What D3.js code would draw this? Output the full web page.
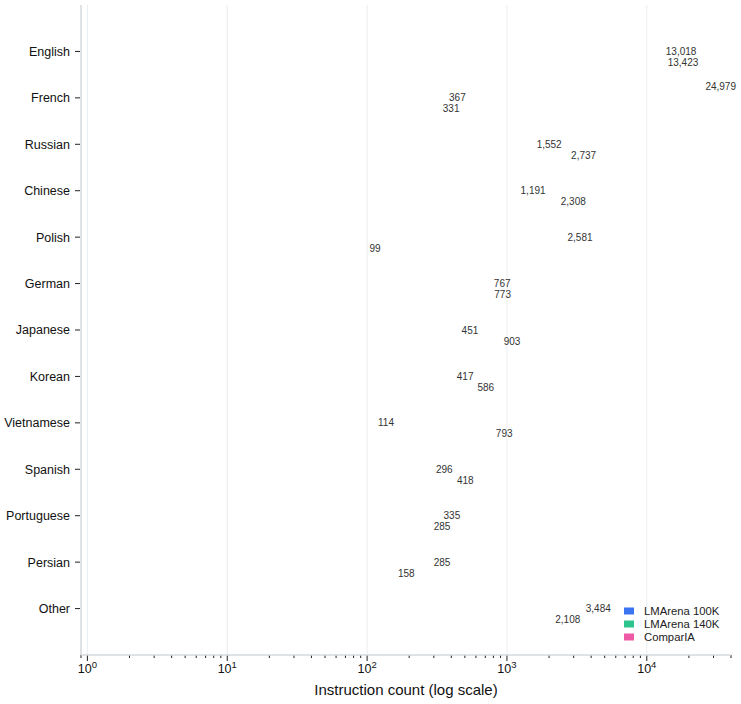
<!DOCTYPE html>
<html>
<head>
<meta charset="utf-8">
<script src="https://cdn.jsdelivr.net/npm/d3@7"></script>
<style>
  body { margin: 0; background: #fff; }
  svg { display: block; font-family: "Liberation Sans", Arial, Helvetica, sans-serif; }
</style>
</head>
<body>
<svg id="chart" width="741" height="704"></svg>
<script>
const languages = ["English","French","Russian","Chinese","Polish","German","Japanese","Korean","Vietnamese","Spanish","Portuguese","Persian","Other"];
const seriesNames = ["LMArena 100K","LMArena 140K","ComparIA"];
const drawOrder = ["ComparIA","LMArena 100K","LMArena 140K"];
const lmarena100k = [13018, 367, 1552, 1191, 2581, 767, 451, 417, 114, 296, 335, 285, 3484];
const lmarena140k = [13423, 331, 2737, 2308, 99, 773, 903, 586, 793, 418, 285, 158, 2108];
const comparia    = [null, 24979, null, null, null, null, null, null, null, null, null, null, null];
const colors = ["#3b74f0", "#2ec48e", "#ee5aa6"];
const xTickValues = [1, 10, 100, 1000, 10000];

const values = { "LMArena 100K": lmarena100k, "LMArena 140K": lmarena140k, "ComparIA": comparia };

const svg = d3.select("#chart");
const pLeft = 81, pRight = 731, pTop = 5, pBottom = 655;

const x = d3.scaleLog().domain([0.9, 40000]).range([pLeft, pRight]);
const y = d3.scaleBand().domain(languages).range([pTop, pBottom]).paddingInner(0.2).paddingOuter(0.6);
const ySub = d3.scaleBand().domain(drawOrder).range([0, y.bandwidth()]).paddingInner(0.1).paddingOuter(0.235);

// gridlines
svg.append("g").selectAll("line").data(xTickValues).join("line")
  .attr("x1", d => x(d)).attr("x2", d => x(d))
  .attr("y1", pTop).attr("y2", pBottom)
  .attr("stroke", "#ebedf0").attr("stroke-width", 1);

// x axis
const xg = svg.append("g").attr("transform", `translate(0,${pBottom})`);
const allTicks = x.ticks();
xg.selectAll("line.minor").data(allTicks).join("line")
  .attr("class", "minor")
  .attr("x1", d => x(d)).attr("x2", d => x(d))
  .attr("y1", 0)
  .attr("y2", d => xTickValues.includes(d) ? 6 : 3)
  .attr("stroke", "#222").attr("stroke-width", 1);
xg.append("line").attr("x1", pLeft).attr("x2", pRight).attr("y1", 0).attr("y2", 0)
  .attr("stroke", "#d5d8dd").attr("stroke-width", 1.5);
const xl = xg.selectAll("text.tl").data(xTickValues).join("text")
  .attr("class", "tl")
  .attr("x", d => x(d)).attr("y", 18)
  .attr("text-anchor", "middle")
  .attr("font-size", 12.5).attr("fill", "#111");
xl.append("tspan").text("10");
xl.append("tspan").attr("dy", -5).attr("font-size", 9.5).text(d => Math.round(Math.log10(d)));

svg.append("text").attr("x", (pLeft + pRight) / 2).attr("y", 695)
  .attr("text-anchor", "middle").attr("font-size", 15).attr("fill", "#111")
  .text("Instruction count (log scale)");

// y axis
const yg = svg.append("g");
yg.append("line").attr("x1", pLeft).attr("x2", pLeft).attr("y1", pTop).attr("y2", pBottom)
  .attr("stroke", "#d5d8dd").attr("stroke-width", 1.5);
yg.selectAll("line.t").data(languages).join("line")
  .attr("class", "t")
  .attr("x1", pLeft - 6).attr("x2", pLeft - 1)
  .attr("y1", d => y(d) + y.bandwidth() / 2).attr("y2", d => y(d) + y.bandwidth() / 2)
  .attr("stroke", "#222");
yg.selectAll("text").data(languages).join("text")
  .attr("x", pLeft - 11).attr("y", d => y(d) + y.bandwidth() / 2)
  .attr("dy", "0.35em").attr("text-anchor", "end")
  .attr("font-size", 12.5).attr("fill", "#111")
  .text(d => d);

// value labels
const labelData = [];
drawOrder.forEach(s => {
  values[s].forEach((v, i) => {
    if (v != null && v > 0) labelData.push({ lang: languages[i], series: s, value: v });
  });
});
svg.append("g").selectAll("text").data(labelData).join("text")
  .attr("x", d => x(d.value) + 3)
  .attr("y", d => y(d.lang) + ySub(d.series) + ySub.bandwidth() / 2)
  .attr("dy", "0.35em")
  .attr("font-size", 10).attr("fill", "#333")
  .text(d => d3.format(",")(d.value));

// legend
const lg = svg.append("g").attr("transform", "translate(624,611)");
seriesNames.forEach((s, i) => {
  const row = lg.append("g").attr("transform", `translate(0,${i * 13})`);
  row.append("rect").attr("x", 0).attr("y", -3.5).attr("width", 10).attr("height", 7).attr("fill", colors[i]);
  row.append("text").attr("x", 20).attr("y", 0).attr("dy", "0.35em")
    .attr("font-size", 11.3).attr("fill", "#222").text(s);
});
</script>
</body>
</html>
